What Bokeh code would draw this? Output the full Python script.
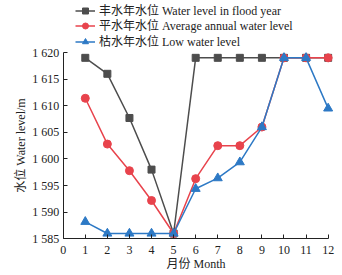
from bokeh.plotting import figure
from bokeh.models import FixedTicker, Range1d, Legend, LegendItem
from bokeh.embed import file_html
from bokeh.resources import INLINE

months = [1, 2, 3, 4, 5, 6, 7, 8, 9, 10, 11, 12]
flood = [1619, 1616, 1607.7, 1598, 1586, 1619, 1619, 1619, 1619, 1619, 1619, 1619]
average = [1611.4, 1602.8, 1597.8, 1592.2, 1586, 1596.3, 1602.5, 1602.5, 1606, 1619, 1619, 1619]
low = [1588.2, 1586, 1586, 1586, 1586, 1594.4, 1596.4, 1599.4, 1606, 1619, 1619, 1609.5]
series_names = ["丰水年水位 Water level in flood year",
                "平水年水位 Average annual water level",
                "枯水年水位 Low water level"]
x_ticks = [0, 1, 2, 3, 4, 5, 6, 7, 8, 9, 10, 11, 12]
y_ticks = [1585, 1590, 1595, 1600, 1605, 1610, 1615, 1620]
y_tick_labels = ["1 585", "1 590", "1 595", "1 600", "1 605", "1 610", "1 615", "1 620"]
x_title = "月份 Month"
y_title = "水位 Water level/m"

FONT = "'Liberation Serif', 'Noto Sans CJK SC'"
TXT = "#222222"
GRAY, RED, BLUE = "#4d4d4d", "#e8434c", "#2d79c5"

p = figure(width=342, height=275, x_range=Range1d(-2.84, 12.65),
           y_range=Range1d(1578.11, 1629.77), output_backend="svg", toolbar_location=None,
           title=None, min_border_left=0, min_border_right=0, min_border_top=0,
           min_border_bottom=0)
p.outline_line_color = None
p.grid.visible = False
p.background_fill_color = "white"
p.border_fill_color = "white"

legend_y = [256, 241, 225]
for ys, col, marker, size, name, ly in [
        (flood, GRAY, "square", 7, series_names[0], legend_y[0]),
        (average, RED, "circle", 8, series_names[1], legend_y[1]),
        (low, BLUE, "triangle", 9, series_names[2], legend_y[2])]:
    l = p.line(months, ys, line_color=col, line_width=1.5)
    s = p.scatter(months, ys, marker=marker, size=size, fill_color=col, line_color=col)
    lg = Legend(items=[LegendItem(label=name, renderers=[l, s])], location=(75, ly),
                orientation="vertical",
                label_text_font=FONT, label_text_font_size="12px", label_text_color=TXT,
                glyph_width=20, glyph_height=15, label_height=15, spacing=0,
                padding=0, margin=0, label_standoff=4,
                border_line_color=None, background_fill_alpha=0)
    p.add_layout(lg, "center")

for ax in (p.xaxis[0], p.yaxis[0]):
    ax.axis_line_color = "#222222"
    ax.major_tick_line_color = "#222222"
    ax.major_tick_in = 4
    ax.major_tick_out = 0
    ax.minor_tick_line_color = None
    ax.major_label_text_font = FONT
    ax.major_label_text_font_size = "12px"
    ax.major_label_text_color = TXT
    ax.axis_label_text_font = FONT
    ax.axis_label_text_font_size = "12px"
    ax.axis_label_text_font_style = "normal"
    ax.axis_label_text_color = TXT

p.xaxis.ticker = FixedTicker(ticks=x_ticks)
p.xaxis.bounds = (0, 12)
p.xaxis.fixed_location = 1585
p.xaxis.major_label_standoff = 7
p.xaxis.axis_label = x_title
p.xaxis.axis_label_standoff = 0

p.yaxis.ticker = FixedTicker(ticks=y_ticks)
p.yaxis.bounds = (1585, 1620)
p.yaxis.fixed_location = 0
p.yaxis.major_label_overrides = {t: lab for t, lab in zip(y_ticks, y_tick_labels)}
p.yaxis.major_label_standoff = 4
p.yaxis.axis_label = y_title
p.yaxis.axis_label_standoff = 2

open("out.html", "w").write(file_html(p, INLINE))
